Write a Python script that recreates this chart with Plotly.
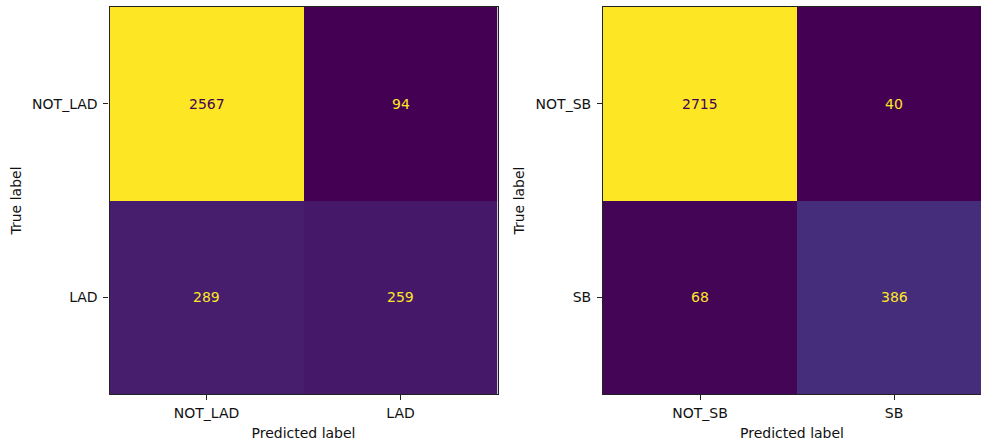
import plotly.graph_objects as go
from plotly.colors import sequential, sample_colorscale

# Confusion matrices (rows = true label, columns = predicted label)
lad_labels = ["NOT_LAD", "LAD"]
lad_matrix = [[2567, 94],
              [289, 259]]

sb_labels = ["NOT_SB", "SB"]
sb_matrix = [[2715, 40],
             [68, 386]]

W, H = 981, 444
FONT = "DejaVu Sans"
viridis = [[i / (len(sequential.Viridis) - 1), c] for i, c in enumerate(sequential.Viridis)]
dark_txt = sample_colorscale(viridis, [0.0])[0]
light_txt = sample_colorscale(viridis, [1.0])[0]

# panel placement in pixels
panel_w, panel_h = 388, 387
top_px = 7
left_x0 = 109.5
right_x0 = 603


def px_x(p):
    return p / W


def px_y(p):
    return 1 - p / H


fig = go.Figure()
panels = [
    (lad_matrix, lad_labels, "x", "y", left_x0, True),
    (sb_matrix, sb_labels, "x2", "y2", right_x0, False),
]

annotations = []
for idx, (mat, labels, xa, ya, x0, full) in enumerate(panels):
    flat = [v for row in mat for v in row]
    vmin, vmax = min(flat), max(flat)
    fig.add_trace(go.Heatmap(
        z=mat, x=[0, 1], y=[0, 1],
        colorscale=viridis, zmin=vmin, zmax=vmax,
        showscale=False, xaxis=xa, yaxis=ya, hoverinfo="z",
    ))
    thresh = (vmin + vmax) / 2
    for r, row in enumerate(mat):
        for c, v in enumerate(row):
            annotations.append(dict(
                x=c, y=r, xref=xa, yref=ya, text=str(v), showarrow=False,
                font=dict(family=FONT, size=14,
                          color=dark_txt if v >= thresh else light_txt),
            ))

    x1 = x0 + panel_w
    if full:
        xrange = [-0.5, 1.5]
        dom = [px_x(x0), px_x(x1)]
    else:
        # panel runs past the right edge of the canvas
        dom = [px_x(x0), 1.0]
        xrange = [-0.5, -0.5 + 2 * (W - x0) / panel_w]

    axis_common = dict(
        showgrid=False, zeroline=False, showline=True, linecolor="#222",
        linewidth=1.1, ticks="outside", ticklen=5, tickwidth=1.1,
        tickcolor="#222", tickfont=dict(family=FONT, size=14, color="#111"),
        title_font=dict(family=FONT, size=14, color="#111"),
        tickmode="array", tickvals=[0, 1], ticktext=labels,
    )
    xname = "xaxis" if idx == 0 else "xaxis2"
    yname = "yaxis" if idx == 0 else "yaxis2"
    fig.layout[xname] = dict(
        axis_common, domain=dom, range=xrange, anchor=ya,
        mirror=True, ticklabelstandoff=1,
        title=dict(text="Predicted label", standoff=8),
    )
    fig.layout[yname] = dict(
        axis_common,
        domain=[px_y(top_px + panel_h), px_y(top_px)],
        range=[1.5, -0.5], anchor=xa, mirror=full,
        ticklabelstandoff=3,
        title=dict(text="True label", standoff=7),
    )

fig.update_layout(
    width=W, height=H, margin=dict(l=0, r=0, t=0, b=0),
    paper_bgcolor="white", plot_bgcolor="white",
    annotations=annotations, showlegend=False,
    font=dict(family=FONT, size=14, color="#111"),
)

fig.write_html("out.html")
